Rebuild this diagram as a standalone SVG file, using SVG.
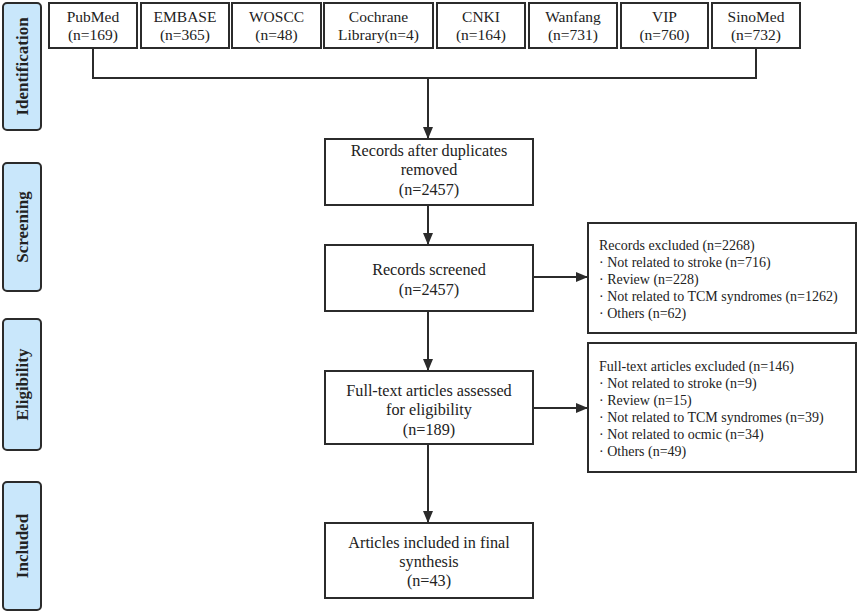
<svg xmlns="http://www.w3.org/2000/svg" width="858" height="613" viewBox="0 0 858 613">
<style>
.box{fill:#fff;stroke:#2b2b2b;stroke-width:2}
.side{fill:#c9e7fb;stroke:#2b2b2b;stroke-width:2}
.t{font-family:"Liberation Serif","Times New Roman",serif;font-size:15.5px;fill:#222;text-anchor:middle}
.m{font-family:"Liberation Serif","Times New Roman",serif;font-size:16.2px;fill:#222;text-anchor:middle}
.e{font-family:"Liberation Serif","Times New Roman",serif;font-size:14px;fill:#222}
.s{font-family:"Liberation Serif","Times New Roman",serif;font-size:17px;font-weight:bold;fill:#222;text-anchor:middle}
.ln{fill:none;stroke:#2b2b2b;stroke-width:2}
</style>
<defs>
<marker id="ah" markerWidth="12" markerHeight="10" refX="12" refY="5" orient="auto" markerUnits="userSpaceOnUse">
<path d="M0,0 L12,5 L0,10 Z" fill="#2b2b2b"/>
</marker>
</defs>
<g id="side-identification"><rect class="side" x="3" y="3" width="38" height="127" rx="4"/><text class="s" transform="translate(28,66.5) rotate(-90)">Identification</text></g>
<g id="side-screening"><rect class="side" x="3" y="163" width="38" height="128" rx="4"/><text class="s" transform="translate(28,227) rotate(-90)">Screening</text></g>
<g id="side-eligibility"><rect class="side" x="3" y="319" width="38" height="131" rx="4"/><text class="s" transform="translate(28,384.5) rotate(-90)">Eligibility</text></g>
<g id="side-included"><rect class="side" x="3" y="482" width="38" height="128" rx="4"/><text class="s" transform="translate(28,546) rotate(-90)">Included</text></g>

<g id="src-pubmed"><rect class="box" x="49" y="3" width="88" height="45"/><text class="t" x="93" y="22">PubMed</text><text class="t" x="93" y="40">(n=169)</text></g>
<g id="src-embase"><rect class="box" x="141" y="3" width="88" height="45"/><text class="t" x="185" y="22">EMBASE</text><text class="t" x="185" y="40">(n=365)</text></g>
<g id="src-woscc"><rect class="box" x="232" y="3" width="89" height="45"/><text class="t" x="276.5" y="22">WOSCC</text><text class="t" x="276.5" y="40">(n=48)</text></g>
<g id="src-cochrane"><rect class="box" x="324" y="3" width="109" height="45"/><text class="t" x="378.5" y="22">Cochrane</text><text class="t" x="378.5" y="40">Library(n=4)</text></g>
<g id="src-cnki"><rect class="box" x="437" y="3" width="88" height="45"/><text class="t" x="481" y="22">CNKI</text><text class="t" x="481" y="40">(n=164)</text></g>
<g id="src-wanfang"><rect class="box" x="529" y="3" width="88" height="45"/><text class="t" x="573" y="22">Wanfang</text><text class="t" x="573" y="40">(n=731)</text></g>
<g id="src-vip"><rect class="box" x="621" y="3" width="87" height="45"/><text class="t" x="664.5" y="22">VIP</text><text class="t" x="664.5" y="40">(n=760)</text></g>
<g id="src-sinomed"><rect class="box" x="712" y="3" width="88" height="45"/><text class="t" x="756" y="22">SinoMed</text><text class="t" x="756" y="40">(n=732)</text></g>

<g id="connectors">
<path class="ln" d="M93,48 V78 H756 V48"/>
<path class="ln" d="M428,78 V139" marker-end="url(#ah)"/>
<path class="ln" d="M428,205 V245" marker-end="url(#ah)"/>
<path class="ln" d="M428,311 V371" marker-end="url(#ah)"/>
<path class="ln" d="M428,444 V523" marker-end="url(#ah)"/>
<path class="ln" d="M533,277 H588" marker-end="url(#ah)"/>
<path class="ln" d="M533,408 H588" marker-end="url(#ah)"/>
</g>

<g id="node-dedup"><rect class="box" x="325" y="139" width="208" height="66"/><text class="m" x="429" y="156">Records after duplicates</text><text class="m" x="429" y="175">removed</text><text class="m" x="429" y="195">(n=2457)</text></g>
<g id="node-screened"><rect class="box" x="325" y="245" width="208" height="66"/><text class="m" x="429" y="275">Records screened</text><text class="m" x="429" y="295">(n=2457)</text></g>
<g id="node-fulltext"><rect class="box" x="325" y="371" width="208" height="73"/><text class="m" x="429" y="396">Full-text articles assessed</text><text class="m" x="429" y="415">for eligibility</text><text class="m" x="429" y="435">(n=189)</text></g>
<g id="node-included"><rect class="box" x="325" y="523" width="208" height="75"/><text class="m" x="429" y="548">Articles included in final</text><text class="m" x="429" y="567">synthesis</text><text class="m" x="429" y="586">(n=43)</text></g>

<g id="node-excluded1"><rect class="box" x="588" y="223" width="268" height="110"/>
<text class="e" x="599" y="250">Records excluded (n=2268)</text>
<text class="e" x="599" y="267">· Not related to stroke (n=716)</text>
<text class="e" x="599" y="284">· Review (n=228)</text>
<text class="e" x="599" y="301">· Not related to TCM syndromes (n=1262)</text>
<text class="e" x="599" y="318">· Others (n=62)</text>
</g>
<g id="node-excluded2"><rect class="box" x="588" y="343" width="268" height="129"/>
<text class="e" x="599" y="371">Full-text articles excluded (n=146)</text>
<text class="e" x="599" y="388">· Not related to stroke (n=9)</text>
<text class="e" x="599" y="405">· Review (n=15)</text>
<text class="e" x="599" y="422">· Not related to TCM syndromes (n=39)</text>
<text class="e" x="599" y="439">· Not related to ocmic (n=34)</text>
<text class="e" x="599" y="456">· Others (n=49)</text>
</g>
</svg>
